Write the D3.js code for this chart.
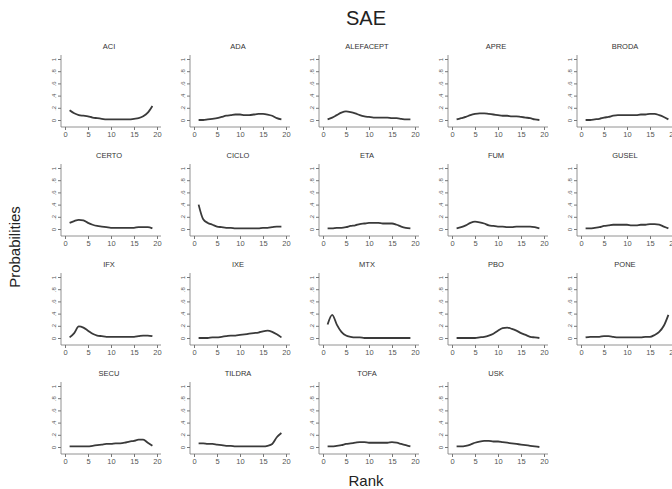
<!DOCTYPE html>
<html>
<head>
<meta charset="utf-8">
<script src="https://cdn.jsdelivr.net/npm/d3@7"></script>
<style>
  body { margin: 0; background: #fff; }
  text { font-family: "Liberation Sans", Arial, sans-serif; }
</style>
</head>
<body>
<div id="chart"></div>
<script>
const width = 672;
const height = 489;

// ranks 1..19
const ranks = [1, 2, 3, 4, 5, 6, 7, 8, 9, 10, 11, 12, 13, 14, 15, 16, 17, 18, 19];
const xTicks = [0, 5, 10, 15, 20];
const yTicks = [0, 0.2, 0.4, 0.6, 0.8, 1];
const yTickLabels = ["0", ".2", ".4", ".6", ".8", "1"];

const treatments = ["ACI", "ADA", "ALEFACEPT", "APRE", "BRODA",
    "CERTO", "CICLO", "ETA", "FUM", "GUSEL",
    "IFX", "IXE", "MTX", "PBO", "PONE",
    "SECU", "TILDRA", "TOFA", "USK"];

const aci = [0.16, 0.11, 0.08, 0.07, 0.06, 0.04, 0.03, 0.02, 0.01, 0.01, 0.01, 0.01, 0.01, 0.01, 0.02, 0.03, 0.06, 0.12, 0.23];
const ada = [0.0, 0.0, 0.01, 0.02, 0.03, 0.05, 0.07, 0.08, 0.09, 0.09, 0.08, 0.08, 0.09, 0.10, 0.10, 0.09, 0.07, 0.03, 0.01];
const alefacept = [0.01, 0.04, 0.08, 0.12, 0.14, 0.13, 0.11, 0.08, 0.06, 0.05, 0.04, 0.04, 0.04, 0.04, 0.03, 0.03, 0.02, 0.01, 0.01];
const apre = [0.01, 0.03, 0.05, 0.08, 0.10, 0.11, 0.11, 0.10, 0.09, 0.08, 0.07, 0.07, 0.06, 0.06, 0.05, 0.04, 0.03, 0.01, 0.0];
const broda = [0.0, 0.0, 0.01, 0.02, 0.04, 0.05, 0.07, 0.08, 0.08, 0.08, 0.08, 0.08, 0.09, 0.09, 0.10, 0.10, 0.08, 0.05, 0.01];
const certo = [0.10, 0.13, 0.15, 0.14, 0.10, 0.07, 0.05, 0.04, 0.03, 0.02, 0.02, 0.02, 0.02, 0.02, 0.02, 0.03, 0.03, 0.03, 0.01];
const ciclo = [0.40, 0.16, 0.10, 0.07, 0.04, 0.03, 0.02, 0.02, 0.01, 0.01, 0.01, 0.01, 0.01, 0.01, 0.02, 0.02, 0.03, 0.04, 0.04];
const eta = [0.01, 0.01, 0.02, 0.02, 0.03, 0.05, 0.06, 0.08, 0.09, 0.10, 0.10, 0.10, 0.09, 0.09, 0.09, 0.07, 0.04, 0.02, 0.01];
const fum = [0.01, 0.03, 0.06, 0.10, 0.12, 0.11, 0.09, 0.06, 0.05, 0.04, 0.04, 0.03, 0.03, 0.04, 0.04, 0.04, 0.04, 0.03, 0.01];
const gusel = [0.01, 0.01, 0.02, 0.03, 0.05, 0.06, 0.07, 0.07, 0.07, 0.07, 0.06, 0.06, 0.07, 0.07, 0.08, 0.08, 0.07, 0.04, 0.01];
const ifx = [0.01, 0.08, 0.19, 0.17, 0.12, 0.07, 0.04, 0.03, 0.02, 0.02, 0.02, 0.02, 0.02, 0.02, 0.02, 0.03, 0.04, 0.04, 0.03];
const ixe = [0.0, 0.0, 0.0, 0.01, 0.01, 0.02, 0.03, 0.04, 0.04, 0.05, 0.06, 0.07, 0.08, 0.09, 0.11, 0.12, 0.10, 0.06, 0.01];
const mtx = [0.22, 0.38, 0.22, 0.10, 0.04, 0.02, 0.01, 0.01, 0.0, 0.0, 0.0, 0.0, 0.0, 0.0, 0.0, 0.0, 0.0, 0.0, 0.0];
const pbo = [0.0, 0.0, 0.0, 0.0, 0.0, 0.01, 0.02, 0.04, 0.07, 0.12, 0.16, 0.17, 0.15, 0.12, 0.08, 0.05, 0.02, 0.01, 0.0];
const pone = [0.01, 0.02, 0.02, 0.02, 0.03, 0.03, 0.02, 0.01, 0.01, 0.01, 0.01, 0.01, 0.01, 0.02, 0.02, 0.05, 0.10, 0.20, 0.38];
const secu = [0.01, 0.01, 0.01, 0.01, 0.01, 0.02, 0.03, 0.04, 0.05, 0.05, 0.06, 0.06, 0.07, 0.09, 0.10, 0.12, 0.12, 0.07, 0.02];
const tildra = [0.06, 0.06, 0.05, 0.05, 0.04, 0.03, 0.02, 0.02, 0.01, 0.01, 0.01, 0.01, 0.01, 0.01, 0.01, 0.02, 0.05, 0.16, 0.23];
const tofa = [0.01, 0.01, 0.02, 0.03, 0.05, 0.06, 0.07, 0.08, 0.08, 0.07, 0.07, 0.07, 0.07, 0.07, 0.08, 0.07, 0.05, 0.03, 0.01];
const usk = [0.01, 0.01, 0.02, 0.04, 0.07, 0.09, 0.10, 0.10, 0.09, 0.09, 0.08, 0.07, 0.06, 0.05, 0.04, 0.03, 0.02, 0.01, 0.0];

const seriesList = [aci, ada, alefacept, apre, broda, certo, ciclo, eta, fum, gusel,
    ifx, ixe, mtx, pbo, pone, secu, tildra, tofa, usk];

// layout
const ncol = 5;
const colStart = 61, colStep = 129;
const rowStart = 59, rowStep = 109;
const axisGap = 7;

const svg = d3.select("#chart")
    .append("svg")
    .attr("width", width)
    .attr("height", height);

svg.append("rect").attr("width", width).attr("height", height).attr("fill", "#fff");

const x = d3.scaleLinear().domain([0, 20]).range([4, 96]);
const y = d3.scaleLinear().domain([0, 1]).range([61, 0]);

const line = d3.line()
    .x((d, i) => x(ranks[i]))
    .y(d => y(d))
    .curve(d3.curveMonotoneX);

treatments.forEach((name, k) => {
    const c = k % ncol, r = Math.floor(k / ncol);
    const g = svg.append("g")
        .attr("transform", `translate(${colStart + c * colStep},${rowStart + r * rowStep})`);

    const y0 = y(0) + axisGap;

    // y axis
    const yAxis = g.append("g")
        .call(d3.axisLeft(y).tickValues(yTicks).tickSize(3).tickSizeOuter(0)
            .tickFormat((d, i) => yTickLabels[i]));
    yAxis.select(".domain").remove();
    yAxis.selectAll("line").attr("stroke", "#777");
    yAxis.selectAll("text")
        .attr("x", null).attr("dy", null)
        .attr("transform", "translate(-5,0) rotate(-90)")
        .attr("text-anchor", "middle")
        .attr("font-size", 6)
        .attr("fill", "#555");
    g.append("line")
        .attr("x1", 0).attr("x2", 0)
        .attr("y1", y(1) - 4).attr("y2", y0)
        .attr("stroke", "#777").attr("stroke-width", 0.8);

    // x axis
    const xAxis = g.append("g")
        .attr("transform", `translate(0,${y0})`)
        .call(d3.axisBottom(x).tickValues(xTicks).tickSize(3).tickSizeOuter(0));
    xAxis.select(".domain").remove();
    xAxis.selectAll("line").attr("stroke", "#777");
    xAxis.selectAll("text")
        .attr("y", 5)
        .attr("font-size", 7.5)
        .attr("fill", "#555");
    g.append("line")
        .attr("x1", 0).attr("x2", 100)
        .attr("y1", y0).attr("y2", y0)
        .attr("stroke", "#777").attr("stroke-width", 0.8);

    // panel title
    g.append("text")
        .attr("x", 48).attr("y", -10)
        .attr("text-anchor", "middle")
        .attr("font-size", 7.5)
        .attr("fill", "#333")
        .text(name);

    g.append("path")
        .datum(seriesList[k])
        .attr("d", line)
        .attr("fill", "none")
        .attr("stroke", "#3a3a3a")
        .attr("stroke-width", 1.8);
});

svg.append("text")
    .attr("x", 366).attr("y", 25)
    .attr("text-anchor", "middle")
    .attr("font-size", 20)
    .attr("fill", "#222")
    .text("SAE");

svg.append("text")
    .attr("x", 366).attr("y", 486)
    .attr("text-anchor", "middle")
    .attr("font-size", 15)
    .attr("fill", "#222")
    .text("Rank");

svg.append("text")
    .attr("transform", "translate(20,247) rotate(-90)")
    .attr("text-anchor", "middle")
    .attr("font-size", 15)
    .attr("fill", "#222")
    .text("Probabilities");
</script>
</body>
</html>
